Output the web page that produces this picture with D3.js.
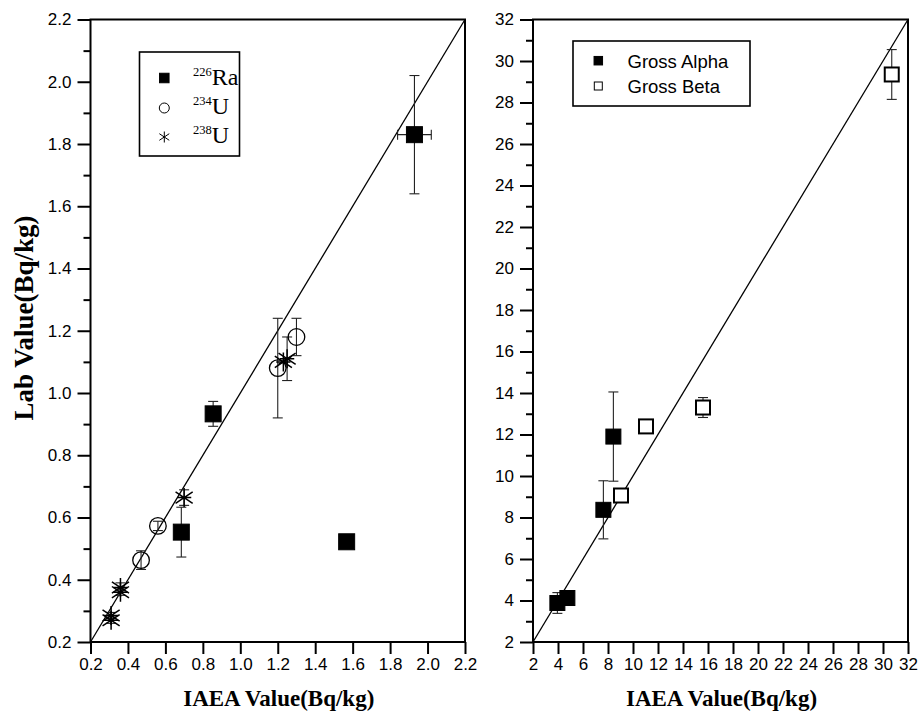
<!DOCTYPE html>
<html>
<head>
<meta charset="utf-8">
<script src="https://cdn.jsdelivr.net/npm/d3@7"></script>
<style>
  html, body { margin: 0; padding: 0; background: #fff; }
  svg { display: block; }
  .tick text { font-family: "Liberation Sans", Arial, sans-serif; font-size: 17px; fill: #000; }
  .tick line { stroke: #000; stroke-width: 2; }
</style>
</head>
<body>
<svg id="chart" width="920" height="712"></svg>
<script>
// ---------- Left panel data ----------
const leftTicks = [0.2, 0.4, 0.6, 0.8, 1.0, 1.2, 1.4, 1.6, 1.8, 2.0, 2.2];
const leftMinorY = [0.3, 0.5, 0.7, 0.9, 1.1, 1.3, 1.5, 1.7, 1.9, 2.1];

const raX    = [1.93, 0.855, 0.685, 1.568];
const raY    = [1.83, 0.933, 0.553, 0.522];
const raYerr = [0.19, 0.04, 0.08, 0];
const raXerr = [0.09, 0, 0, 0];

const u234X    = [0.47, 0.56, 1.20, 1.30];
const u234Y    = [0.463, 0.573, 1.08, 1.18];
const u234Yerr = [0.03, 0.015, 0.16, 0.06];

const u238X    = [0.31, 0.31, 0.36, 0.36, 0.70, 1.25, 1.23];
const u238Y    = [0.285, 0.27, 0.375, 0.36, 0.664, 1.11, 1.10];
const u238Yerr = [0.01, 0.01, 0.015, 0.01, 0.025, 0.07, 0];

// ---------- Right panel data ----------
const rightTicks = [2, 4, 6, 8, 10, 12, 14, 16, 18, 20, 22, 24, 26, 28, 30, 32];
const rightMinorY = [3, 5, 7, 9, 11, 13, 15, 17, 19, 21, 23, 25, 27, 29, 31];

const alphaX    = [8.43, 7.63, 3.95, 4.75];
const alphaY    = [11.9, 8.37, 3.88, 4.12];
const alphaYerr = [2.15, 1.4, 0.5, 0.35];

const betaX    = [9.04, 11.04, 15.6, 30.7];
const betaY    = [9.06, 12.39, 13.3, 29.35];
const betaYerr = [0.3, 0.2, 0.48, 1.2];

const xTitle = "IAEA Value(Bq/kg)";
const yTitle = "Lab Value(Bq/kg)";

// ---------- Drawing ----------
const svg = d3.select("#chart");
const plotTop = 19.5, plotBottom = 642;

function zip(xs, ys, yerr, xerr) {
  return xs.map((x, i) => ({ x, y: ys[i], ye: yerr ? yerr[i] : 0, xe: xerr ? xerr[i] : 0 }));
}

function panel(x0, x1, dom, ticks, minorY, fmt) {
  const g = svg.append("g");
  const x = d3.scaleLinear().domain(dom).range([x0, x1]);
  const y = d3.scaleLinear().domain(dom).range([plotBottom, plotTop]);

  const ax = g.append("g").attr("transform", `translate(0,${plotBottom})`)
    .call(d3.axisBottom(x).tickValues(ticks).tickFormat(fmt).tickSize(12).tickSizeOuter(0).tickPadding(4));
  ax.select(".domain").remove();

  const ay = g.append("g").attr("transform", `translate(${x0},0)`)
    .call(d3.axisLeft(y).tickValues(ticks).tickFormat(fmt).tickSize(13).tickSizeOuter(0).tickPadding(6));
  ay.select(".domain").remove();

  const amy = g.append("g").attr("transform", `translate(${x0},0)`)
    .call(d3.axisLeft(y).tickValues(minorY).tickFormat("").tickSize(7).tickSizeOuter(0));
  amy.select(".domain").remove();

  g.append("rect").attr("x", x0).attr("y", plotTop).attr("width", x1 - x0).attr("height", plotBottom - plotTop)
    .attr("fill", "none").attr("stroke", "#000").attr("stroke-width", 2);

  // y = x reference line
  g.append("line")
    .attr("x1", x(dom[0])).attr("y1", y(dom[0]))
    .attr("x2", x(dom[1])).attr("y2", y(dom[1]))
    .attr("stroke", "#000").attr("stroke-width", 1.3);

  // axis title
  g.append("text").attr("x", (x0 + x1) / 2 + 1).attr("y", 706)
    .attr("text-anchor", "middle")
    .attr("font-family", "'Liberation Serif', 'Times New Roman', serif")
    .attr("font-weight", "bold").attr("font-size", 23)
    .text(xTitle);

  return { g, x, y };
}

function errorBars(p, data) {
  const eg = p.g.append("g").attr("stroke", "#222").attr("stroke-width", 1.1).attr("fill", "none");
  data.filter(d => d.ye > 0).forEach(d => {
    const cx = p.x(d.x), yt = p.y(d.y + d.ye), yb = p.y(d.y - d.ye);
    eg.append("line").attr("x1", cx).attr("x2", cx).attr("y1", yt).attr("y2", yb);
    eg.append("line").attr("x1", cx - 5).attr("x2", cx + 5).attr("y1", yt).attr("y2", yt);
    eg.append("line").attr("x1", cx - 5).attr("x2", cx + 5).attr("y1", yb).attr("y2", yb);
  });
  data.filter(d => d.xe > 0).forEach(d => {
    const cy = p.y(d.y), xl = p.x(d.x - d.xe), xr = p.x(d.x + d.xe);
    eg.append("line").attr("x1", xl).attr("x2", xr).attr("y1", cy).attr("y2", cy);
    eg.append("line").attr("x1", xl).attr("x2", xl).attr("y1", cy - 5).attr("y2", cy + 5);
    eg.append("line").attr("x1", xr).attr("x2", xr).attr("y1", cy - 5).attr("y2", cy + 5);
  });
}

function squares(g, pts, size, filled, sw) {
  g.selectAll(null).data(pts).join("rect")
    .attr("x", d => d[0] - size / 2).attr("y", d => d[1] - size / 2)
    .attr("width", size).attr("height", size)
    .attr("fill", filled ? "#000" : "#fff")
    .attr("stroke", "#000").attr("stroke-width", sw != null ? sw : (filled ? 1 : 2));
}
function circles(g, pts, r, sw) {
  g.selectAll(null).data(pts).join("circle")
    .attr("cx", d => d[0]).attr("cy", d => d[1]).attr("r", r)
    .attr("fill", "none").attr("stroke", "#000").attr("stroke-width", sw);
}
function stars(g, pts, s, sw, withH) {
  const h = s / 2, dx = h * 0.9, dy = h * 0.6;
  pts.forEach(d => {
    const [cx, cy] = d;
    let p = `M${cx},${cy - h}L${cx},${cy + h}M${cx - dx},${cy - dy}L${cx + dx},${cy + dy}M${cx - dx},${cy + dy}L${cx + dx},${cy - dy}`;
    if (withH) p += `M${cx - h * 0.75},${cy}L${cx + h * 0.75},${cy}`;
    g.append("path").attr("d", p)
      .attr("stroke", "#000").attr("stroke-width", sw).attr("fill", "none");
  });
}

// ----- Left panel -----
const L = panel(90.5, 465, [0.2, 2.2], leftTicks, leftMinorY, d3.format(".1f"));
const raData = zip(raX, raY, raYerr, raXerr);
const u234Data = zip(u234X, u234Y, u234Yerr);
const u238Data = zip(u238X, u238Y, u238Yerr);
errorBars(L, raData);
errorBars(L, u234Data);
errorBars(L, u238Data);
squares(L.g, raData.map(d => [L.x(d.x), L.y(d.y)]), 16, true);
circles(L.g, u234Data.map(d => [L.x(d.x), L.y(d.y)]), 8.3, 1.3);
stars(L.g, u238Data.map(d => [L.x(d.x), L.y(d.y)]), 19, 1.5, true);

svg.append("text")
  .attr("transform", "translate(33,318) rotate(-90)")
  .attr("text-anchor", "middle")
  .attr("font-family", "'Liberation Serif', 'Times New Roman', serif")
  .attr("font-weight", "bold").attr("font-size", 27)
  .text(yTitle);

// left legend
const lg = svg.append("g");
lg.append("rect").attr("x", 139.5).attr("y", 52).attr("width", 100).attr("height", 104)
  .attr("fill", "#fff").attr("stroke", "#000").attr("stroke-width", 1.6);
squares(lg, [[164.3, 78]], 9.5, true);
circles(lg, [[164.3, 108]], 5, 1);
stars(lg, [[164.3, 137]], 11, 1, false);
const legL = [["226", "Ra", 85], ["234", "U", 114], ["238", "U", 143]];
legL.forEach(([sup, main, yb]) => {
  const t = lg.append("text").attr("x", 193).attr("y", yb)
    .attr("font-family", "'Liberation Serif', 'Times New Roman', serif");
  t.append("tspan").attr("font-size", 12.5).attr("dy", -9).text(sup);
  t.append("tspan").attr("font-size", 24).attr("dy", 9).text(main);
});

// ----- Right panel -----
const R = panel(533, 908, [2, 32], rightTicks, rightMinorY, d3.format("d"));
const alphaData = zip(alphaX, alphaY, alphaYerr);
const betaData = zip(betaX, betaY, betaYerr);
errorBars(R, alphaData);
errorBars(R, betaData);
squares(R.g, alphaData.map(d => [R.x(d.x), R.y(d.y)]), 15, true);
squares(R.g, betaData.map(d => [R.x(d.x), R.y(d.y)]), 14, false);

const rg = svg.append("g");
rg.append("rect").attr("x", 573).attr("y", 41).attr("width", 177).attr("height", 65)
  .attr("fill", "#fff").attr("stroke", "#000").attr("stroke-width", 1.6);
squares(rg, [[598.3, 60.7]], 8.5, true);
squares(rg, [[598.3, 86]], 8, false, 1);
[["Gross Alpha", 67.5], ["Gross Beta", 92.5]].forEach(([s, yb]) => {
  rg.append("text").attr("x", 627.5).attr("y", yb)
    .attr("font-family", "'Liberation Sans', Arial, sans-serif").attr("font-size", 18.5)
    .text(s);
});
</script>
</body>
</html>
